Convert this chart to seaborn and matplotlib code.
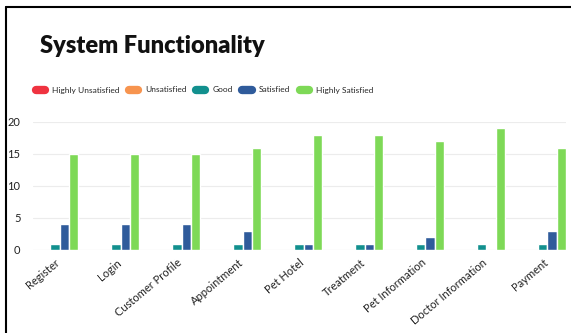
import matplotlib
matplotlib.use("Agg")
import matplotlib.pyplot as plt
import pandas as pd
import seaborn as sns
from matplotlib.lines import Line2D

# chart data
features = ["Register", "Login", "Customer Profile", "Appointment", "Pet Hotel",
            "Treatment", "Pet Information", "Doctor Information", "Payment"]
ratings = ["Highly Unsatisfied", "Unsatisfied", "Good", "Satisfied", "Highly Satisfied"]
highly_unsatisfied = [0, 0, 0, 0, 0, 0, 0, 0, 0]
unsatisfied = [0, 0, 0, 0, 0, 0, 0, 0, 0]
good = [1, 1, 1, 1, 1, 1, 1, 1, 1]
satisfied = [4, 4, 4, 3, 1, 1, 2, 0, 3]
highly_satisfied = [15, 15, 15, 16, 18, 18, 17, 19, 16]
colors = ["#ef3340", "#f7944f", "#12908e", "#2f5b9b", "#7ed957"]

# long table for seaborn
rows = []
for rating, vals in zip(ratings, [highly_unsatisfied, unsatisfied, good, satisfied, highly_satisfied]):
    for f, v in zip(features, vals):
        rows.append((f, rating, v))
df = pd.DataFrame(rows, columns=["feature", "rating", "count"])

sns.set_style("white")
plt.rcParams["font.family"] = ["Lato", "DejaVu Sans"]

fig = plt.figure(figsize=(5.71, 3.33), dpi=100)
ax = fig.add_axes([33 / 571, 1 - 250 / 333, (566 - 33) / 571, 128 / 333])

sns.barplot(data=df, x="feature", y="count", hue="rating", hue_order=ratings,
            palette=colors, width=0.76, gap=0, saturation=1, legend=False, ax=ax)

ax.set_xlim(-0.36, 8.38)
ax.set_ylim(0, 20)
ax.set_yticks([0, 5, 10, 15, 20])
ax.yaxis.grid(True, color="#ececec", linewidth=0.8)
ax.set_axisbelow(True)
ax.axhline(0, color="#dddddd", linewidth=0.8, zorder=0)
for s in ax.spines.values():
    s.set_visible(False)
ax.set_xlabel(None)
ax.set_ylabel(None)
ax.tick_params(axis="both", length=0, labelsize=8, colors="#222222")
ax.tick_params(axis="y", pad=9)
ax.tick_params(axis="x", pad=5)
plt.setp(ax.get_xticklabels(), rotation=40, ha="right", rotation_mode="anchor")

fig.text(40 / 571, 1 - 46 / 333, "System Functionality", fontsize=17,
         fontweight="heavy", va="center", ha="left", color="#111111")

handles = [Line2D([], [], color=c, linewidth=6, solid_capstyle="round") for c in colors]
fig.legend(handles, ratings, ncol=5, loc="center left", frameon=False,
           bbox_to_anchor=(28 / 571, 1 - 90 / 333), fontsize=6.0,
           handlelength=1.1, handletextpad=0.9, columnspacing=1.1)

# frame lines on the left and top
fig.add_artist(Line2D([6 / 571, 6 / 571], [0, 1 - 7 / 333], color="black", linewidth=1.5))
fig.add_artist(Line2D([6 / 571, 1], [1 - 7 / 333, 1 - 7 / 333], color="black", linewidth=1.5))

fig.savefig("out.png", dpi=100)
